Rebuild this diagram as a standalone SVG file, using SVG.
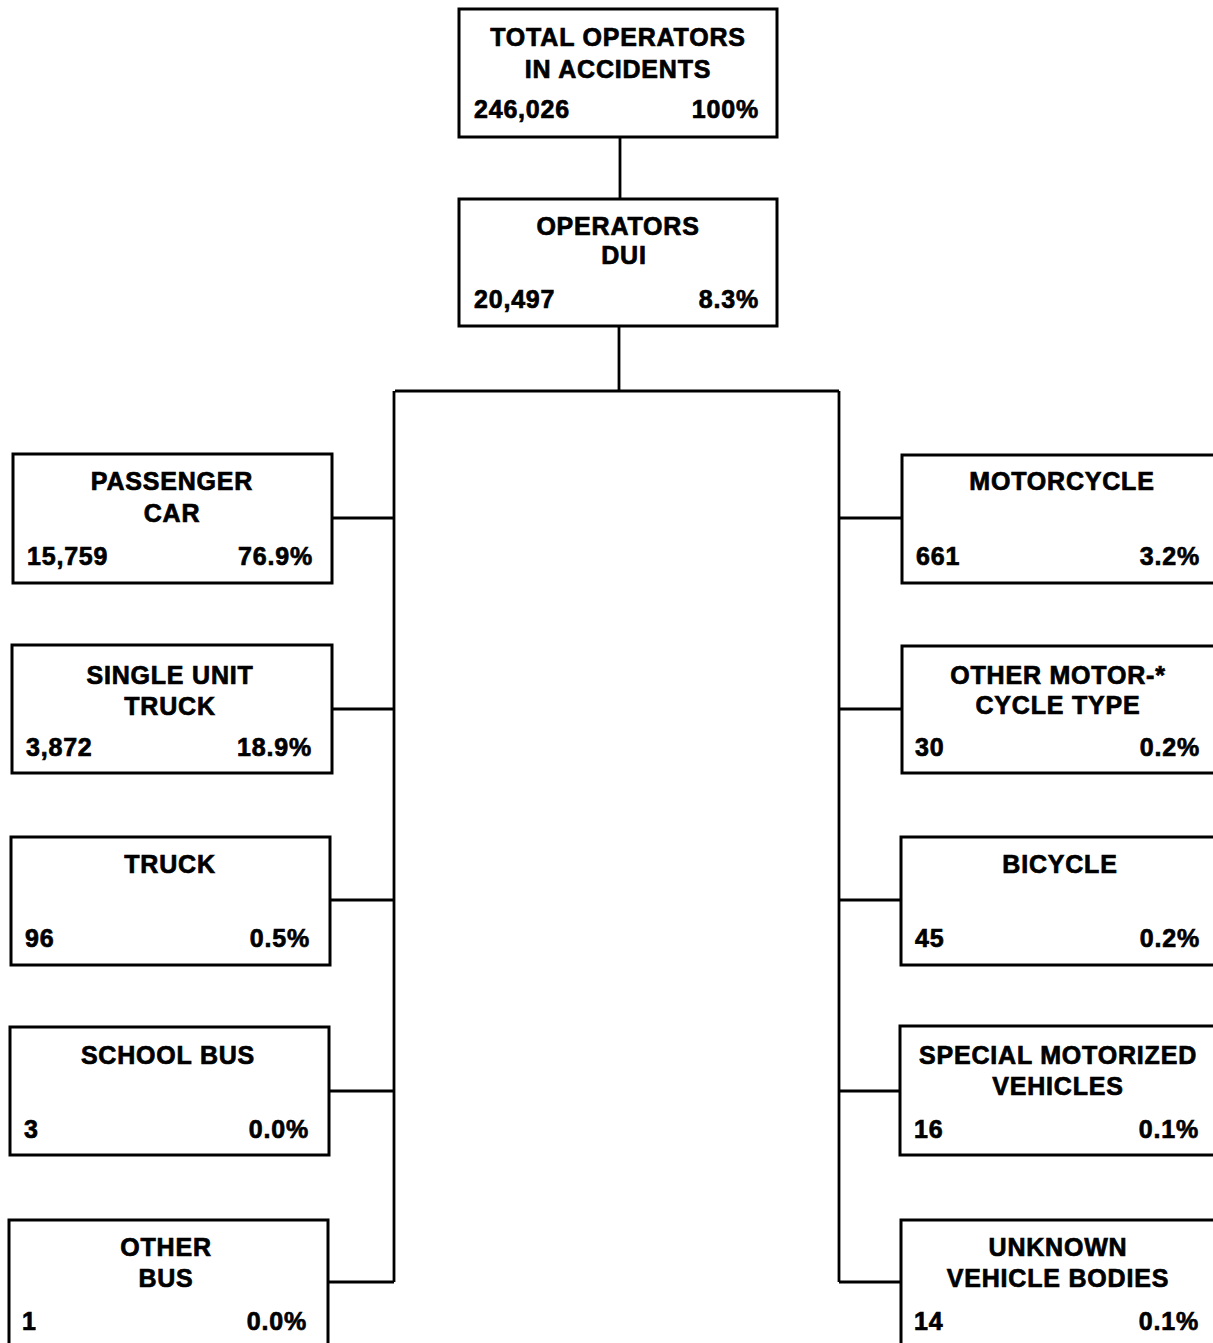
<svg xmlns="http://www.w3.org/2000/svg" width="1213" height="1343" viewBox="0 0 1213 1343">
<style>
.box{fill:#fff;stroke:#000;stroke-width:3}
.c{fill:none;stroke:#000;stroke-width:2.8}
text{font-family:"Liberation Sans",Arial,sans-serif;font-weight:bold;font-size:25px;fill:#000;stroke:#000;stroke-width:0.7;letter-spacing:0.8px}
.m{text-anchor:middle}
.r{text-anchor:end}
</style>
<rect width="1213" height="1343" fill="#fff"/>
<g id="connectors">
<path class="c" d="M620 137V199M619 326V391M395 391H839M394 391V1282M839 391V1282"/>
<path class="c" d="M332 518H394M332 709H394M330 900H394M330 1091H394M328 1282H394"/>
<path class="c" d="M839 518H902M839 709H902M839 900H902M839 1091H902M839 1282H902"/>
</g>
<g id="total">
<rect class="box" x="459" y="9" width="318" height="128"/>
<text class="m" x="618" y="46">TOTAL OPERATORS</text>
<text class="m" x="618" y="78">IN ACCIDENTS</text>
<text x="474" y="118">246,026</text>
<text class="r" x="759" y="118">100%</text>
</g>
<g id="dui">
<rect class="box" x="459" y="199" width="318" height="127"/>
<text class="m" x="618" y="235">OPERATORS</text>
<text class="m" x="624" y="264">DUI</text>
<text x="474" y="308">20,497</text>
<text class="r" x="759" y="308">8.3%</text>
</g>
<g id="passenger-car">
<rect class="box" x="13" y="454" width="319" height="129"/>
<text class="m" x="172" y="490">PASSENGER</text>
<text class="m" x="172" y="522">CAR</text>
<text x="27" y="565">15,759</text>
<text class="r" x="313" y="565">76.9%</text>
</g>
<g id="single-unit-truck">
<rect class="box" x="12" y="645" width="320" height="128"/>
<text class="m" x="170" y="684">SINGLE UNIT</text>
<text class="m" x="170" y="715">TRUCK</text>
<text x="26" y="756">3,872</text>
<text class="r" x="312" y="756">18.9%</text>
</g>
<g id="truck">
<rect class="box" x="11" y="837" width="319" height="128"/>
<text class="m" x="170" y="873">TRUCK</text>
<text x="25" y="947">96</text>
<text class="r" x="310" y="947">0.5%</text>
</g>
<g id="school-bus">
<rect class="box" x="10" y="1027" width="319" height="128"/>
<text class="m" x="168" y="1064">SCHOOL BUS</text>
<text x="24" y="1138">3</text>
<text class="r" x="309" y="1138">0.0%</text>
</g>
<g id="other-bus">
<rect class="box" x="9" y="1220" width="319" height="140"/>
<text class="m" x="166" y="1256">OTHER</text>
<text class="m" x="166" y="1287">BUS</text>
<text x="22" y="1330">1</text>
<text class="r" x="307" y="1330">0.0%</text>
</g>
<g id="motorcycle">
<rect class="box" x="902" y="455" width="330" height="128"/>
<text class="m" x="1062" y="490">MOTORCYCLE</text>
<text x="916" y="565">661</text>
<text class="r" x="1200" y="565">3.2%</text>
</g>
<g id="other-motorcycle-type">
<rect class="box" x="902" y="646" width="330" height="127"/>
<text class="m" x="1058" y="684">OTHER MOTOR-*</text>
<text class="m" x="1058" y="714">CYCLE TYPE</text>
<text x="915" y="756">30</text>
<text class="r" x="1200" y="756">0.2%</text>
</g>
<g id="bicycle">
<rect class="box" x="901" y="837" width="330" height="128"/>
<text class="m" x="1060" y="873">BICYCLE</text>
<text x="915" y="947">45</text>
<text class="r" x="1200" y="947">0.2%</text>
</g>
<g id="special-motorized">
<rect class="box" x="900" y="1026" width="330" height="129"/>
<text class="m" x="1058" y="1064">SPECIAL MOTORIZED</text>
<text class="m" x="1058" y="1095">VEHICLES</text>
<text x="914" y="1138">16</text>
<text class="r" x="1199" y="1138">0.1%</text>
</g>
<g id="unknown-vehicle-bodies">
<rect class="box" x="901" y="1220" width="330" height="140"/>
<text class="m" x="1058" y="1256">UNKNOWN</text>
<text class="m" x="1058" y="1287">VEHICLE BODIES</text>
<text x="914" y="1330">14</text>
<text class="r" x="1199" y="1330">0.1%</text>
</g>
</svg>
